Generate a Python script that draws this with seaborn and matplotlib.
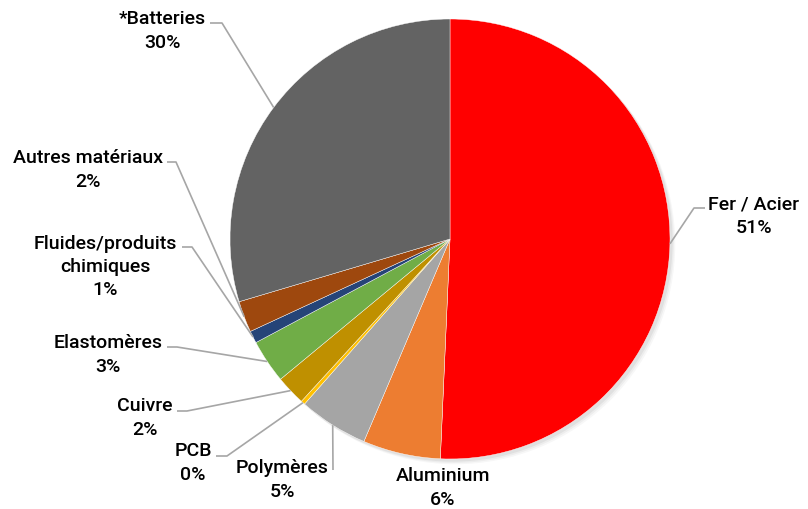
import numpy as np
import matplotlib
matplotlib.use("Agg")
import matplotlib.pyplot as plt
import seaborn as sns

# Composition of the materials (share of mass, %)
materials = ["Fer / Acier", "Aluminium", "Polymères", "PCB", "Cuivre",
             "Elastomères", "Fluides/produits\nchimiques", "Autres matériaux",
             "*Batteries"]
shares = [50.7, 5.7, 5.1, 0.3, 2.2, 3.2, 0.9, 2.3, 29.6]
colors = ["#FF0000", "#ED7D31", "#A5A5A5", "#FFC000", "#BF9000",
          "#70AD47", "#264478", "#9E480E", "#636363"]

sns.set_theme(style="white")
plt.rcParams["font.family"] = ["Roboto", "DejaVu Sans"]

W, H = 808, 510
fig = plt.figure(figsize=(W / 100, H / 100), dpi=100)
ax = fig.add_axes([0, 0, 1, 1])

# pie geometry in pixels
cx, cy, R = 450, 240, 220


def px(x, y):
    return (x - cx) / R, (cy - y) / R


# soft shadow beneath the pie
for k, a in enumerate([0.05, 0.04, 0.03]):
    ax.add_patch(plt.Circle((0.012 + 0.006 * k, -0.012 - 0.006 * k), 1.0,
                            color="black", alpha=a, lw=0, zorder=0))

wedges, _ = ax.pie(shares, colors=colors, startangle=90, counterclock=False,
                   radius=1.0, center=(0, 0),
                   wedgeprops=dict(linewidth=0.3, edgecolor="white"),
                   frame=True)
ax.set_xlim(-cx / R, (W - cx) / R)
ax.set_ylim(-(H - cy) / R, cy / R)
ax.set_aspect("equal")
ax.axis("off")

# label layout (px): text centre, leader start, leader elbow
layout = {
    "Fer / Acier": ((754, 216), (705, 209), (694, 209)),
    "Aluminium": ((443, 488), None, None),
    "Polymères": ((282, 480), (333, 471), (333, 471)),
    "PCB": ((193, 463), (216, 457), (227, 457)),
    "Cuivre": ((145, 418), (177, 412), (187, 412)),
    "Elastomères": ((108, 355), (167, 348), (177, 348)),
    "Fluides/produits\nchimiques": ((105, 267), (182, 248), (192, 248)),
    "Autres matériaux": ((88, 170), (167, 163), (176, 163)),
    "*Batteries": ((162, 31), (210, 24), (222, 24)),
}

for w, name, val in zip(wedges, materials, shares):
    (tx, ty), start, elbow = layout[name]
    label = f"{name}\n{val:.0f}%"
    ax.text(*px(tx, ty), label, ha="center", va="center", fontsize=14,
            fontweight="medium", color="black", linespacing=1.36)
    if start is None:
        continue
    mid = np.deg2rad((w.theta1 + w.theta2) / 2)
    ex, ey = np.cos(mid), np.sin(mid)
    x0, y0 = px(*start)
    x1, y1 = px(*elbow)
    ax.plot([x0, x1, ex], [y0, y1, ey], color="#A6A6A6", lw=1.2,
            zorder=3, solid_capstyle="butt")

fig.savefig("out.png", dpi=100, facecolor="white")
